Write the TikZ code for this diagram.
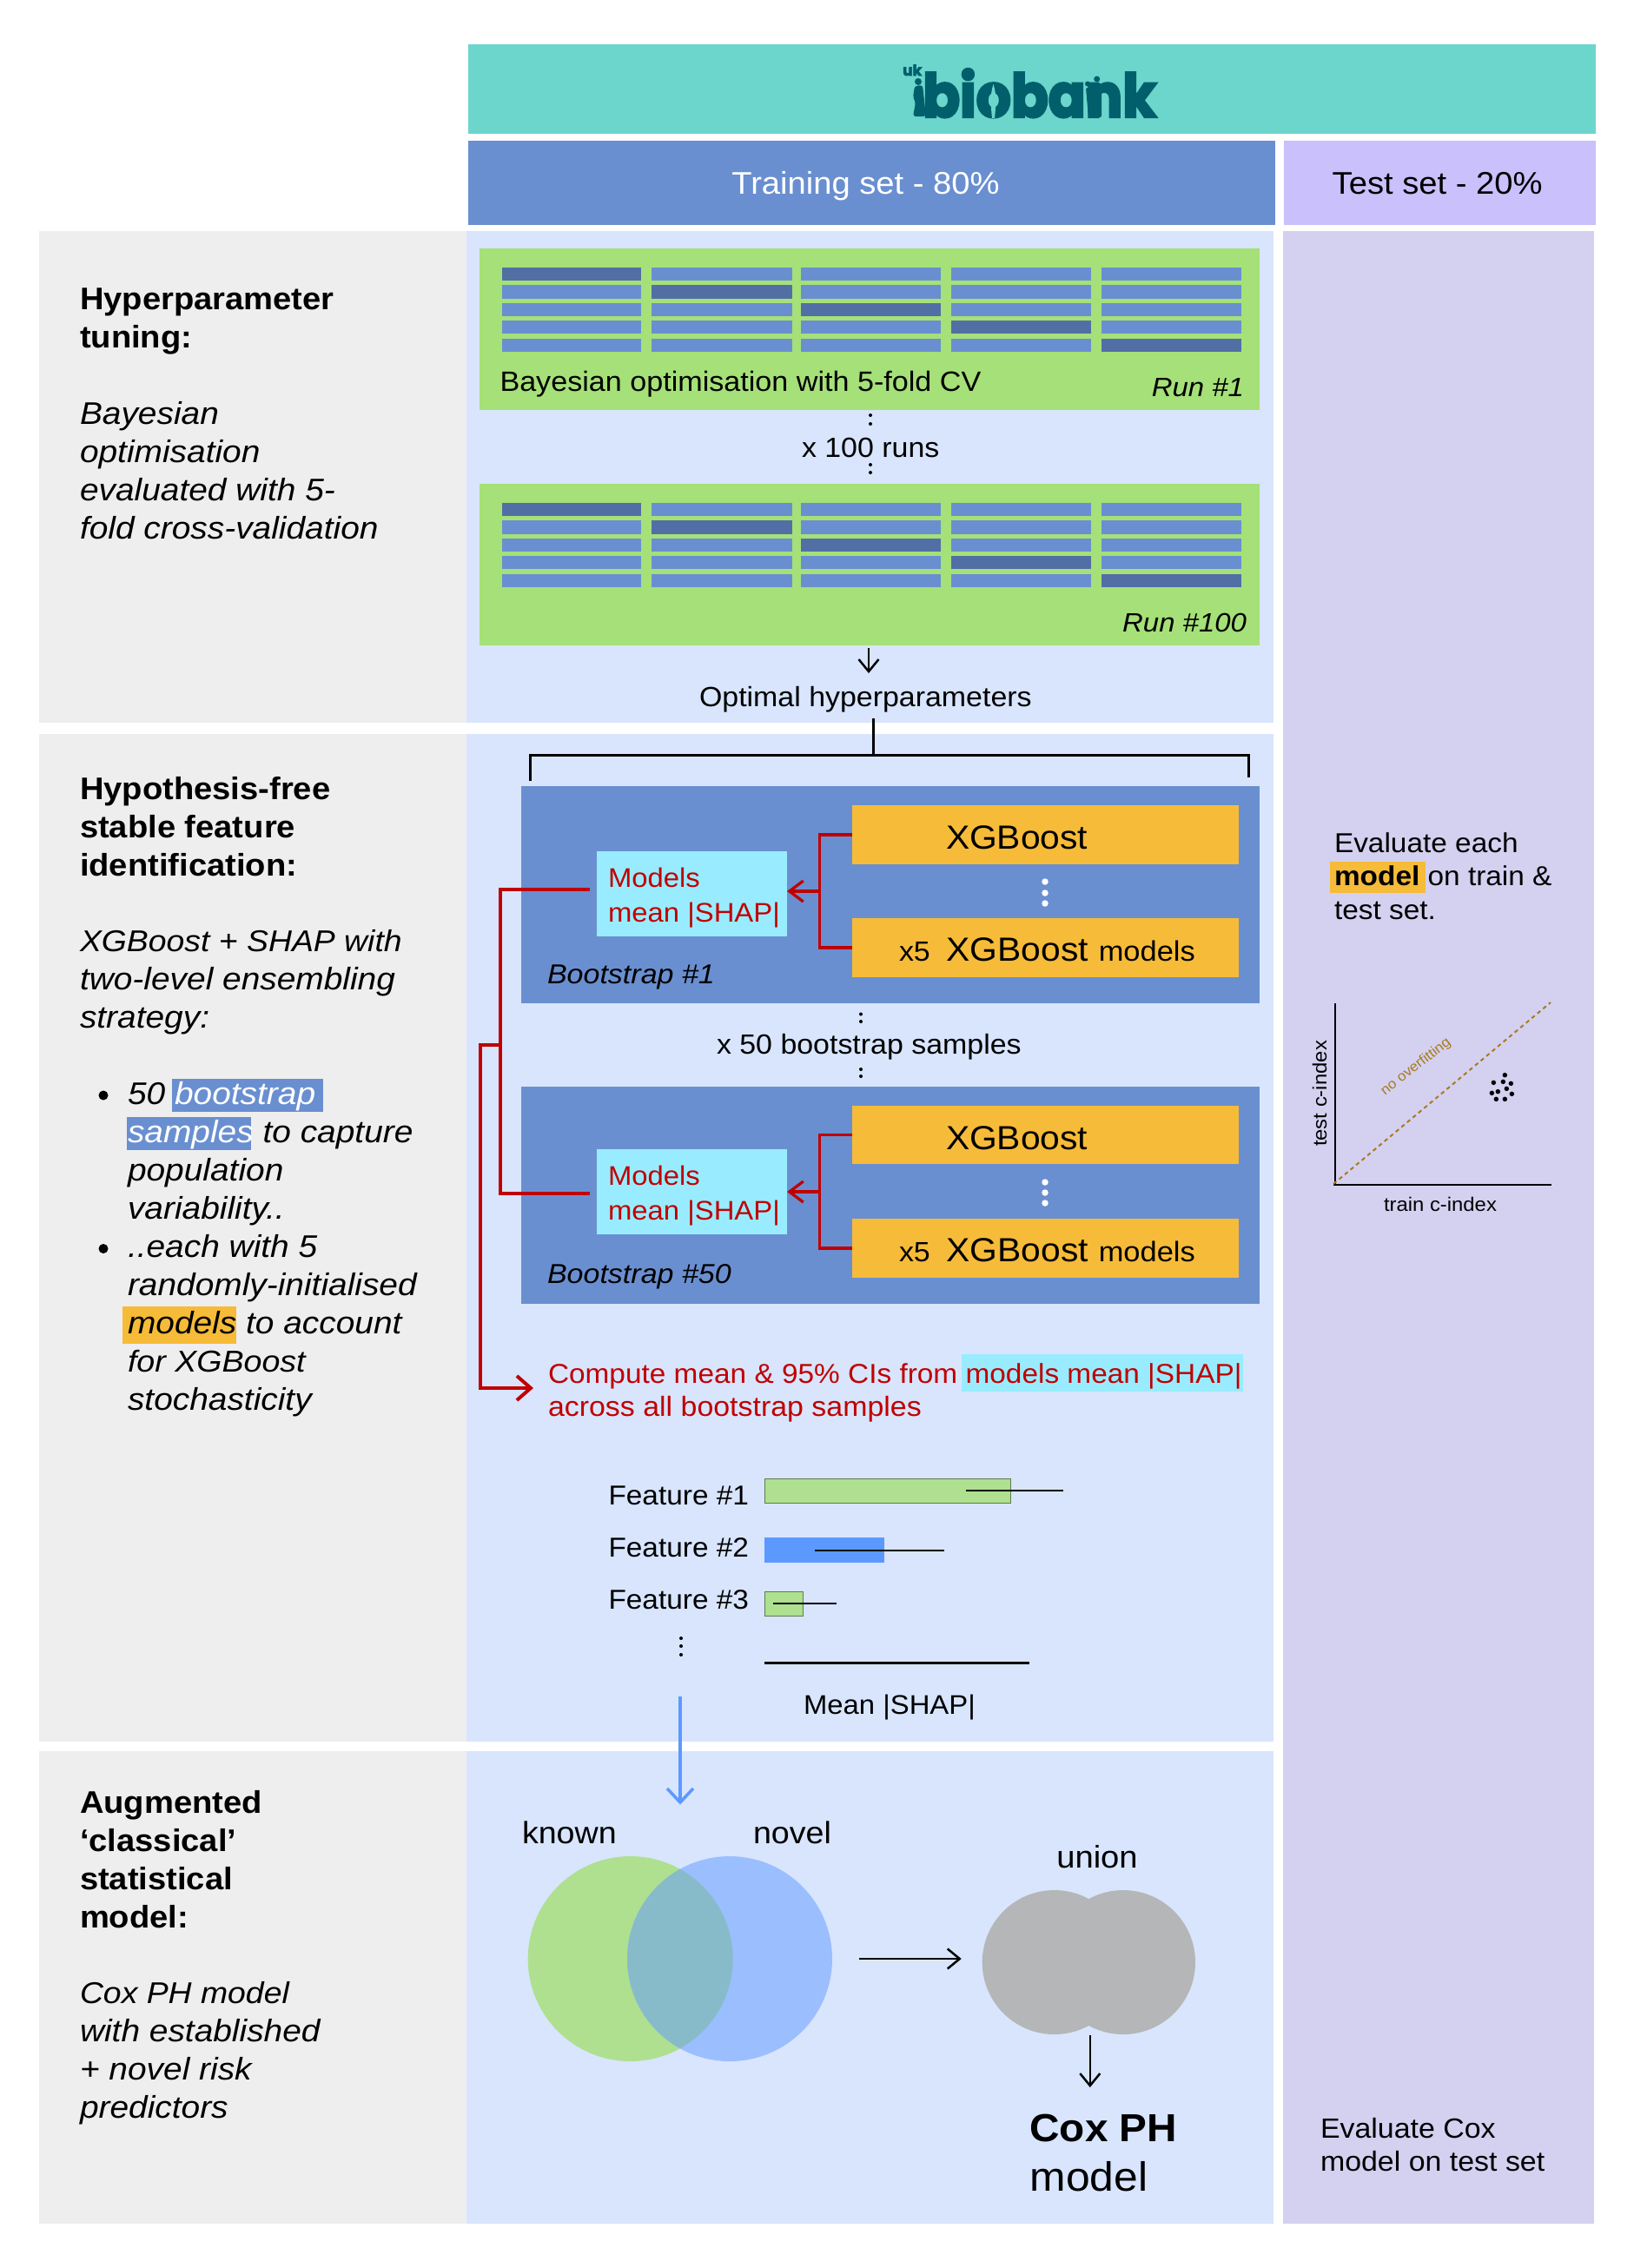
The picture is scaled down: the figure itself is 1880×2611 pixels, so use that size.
\documentclass[tikz,border=0pt]{standalone}
\usepackage{fontspec}
\usepackage{graphicx}
\setmainfont{Liberation Sans}[UprightFeatures={FakeStretch=1.06},BoldFeatures={FakeStretch=1.06},ItalicFeatures={FakeStretch=1.08}]
\newfontfamily\logofont{Poppins}[BoldFeatures={FakeBold=4}]
\usetikzlibrary{arrows.meta}
\definecolor{cTeal}{HTML}{6CD5CC}
\definecolor{cTrain}{HTML}{6A8FD0}
\definecolor{cTestH}{HTML}{C9C0FC}
\definecolor{cPanel}{HTML}{D8E5FD}
\definecolor{cTestP}{HTML}{D4D0F0}
\definecolor{cGrey}{HTML}{EEEEEE}
\definecolor{cGreen}{HTML}{A5E078}
\definecolor{cDark}{HTML}{526FA5}
\definecolor{cOrange}{HTML}{F6BB38}
\definecolor{cCyan}{HTML}{99ECFF}
\definecolor{cRed}{HTML}{C00000}
\definecolor{cBar}{HTML}{AEE08F}
\definecolor{cBlue}{HTML}{5C99FF}
\definecolor{cVenn}{HTML}{9BBEFF}
\definecolor{cOver}{HTML}{88BBC9}
\definecolor{cUnion}{HTML}{B5B6B7}
\definecolor{cLogo}{HTML}{005F6B}
\definecolor{cBrown}{HTML}{A67C1F}
\newcommand\F[2]{\fontsize{#1}{#2}\selectfont}
\newcommand\FS{\rule{0pt}{30pt}}
% name, x1, y1, x2, y2, style, text
\newcommand\pbx[7]{%
  \pgfmathsetmacro\bxw{#4-#2}\pgfmathsetmacro\bxh{#5-#3}%
  \node[#6,minimum width=\bxw pt,minimum height=\bxh pt,inner sep=0pt,outer sep=0pt,anchor=north west] (#1) at (#2,#3) {#7};}
\tikzset{
  txt/.style={inner sep=0pt,outer sep=0pt,anchor=base west,font=\F{32}{39}},
  blk/.style={inner sep=0pt,outer sep=0pt,anchor=north west,align=left},
  cell/.style={fill=cTrain},
  cellhi/.style={fill=cDark},
  redln/.style={draw=cRed,line width=3.3pt},
  redar/.style={draw=cRed,line width=3.3pt,-{Straight Barb[length=16pt,width=24pt,line width=3.3pt]}},
  blkar/.style={draw=black,line width=2.5pt,-{Straight Barb[length=14pt,width=23pt,line width=2.5pt]}},
  barbox/.style={fill=cBar,draw=black!45!cBar,line width=1pt},
  err/.style={draw=black,line width=2.2pt},
  dot/.style={circle,fill=black,inner sep=0pt,minimum size=5pt},
  wdot/.style={circle,fill=white,inner sep=0pt,minimum size=7.5pt},
  pdot/.style={circle,fill=black,inner sep=0pt,minimum size=5.5pt},
}
\begin{document}
\begin{tikzpicture}[x=1pt,y=-1pt]
\useasboundingbox (0,0) rectangle (1880,2611);
\fill[white] (0,0) rectangle (1880,2611);
% header
\pbx{ukb}{539}{51}{1837}{154}{fill=cTeal}{}
\pbx{train}{539}{162}{1468}{259}{fill=cTrain}{}
\pbx{test}{1478}{162}{1837}{259}{fill=cTestH}{}
\node[txt,anchor=base,text=white,font=\F{36}{43}] (trainT) at (996.5,223) {Training set - 80\%};
\node[txt,anchor=base,font=\F{36}{43}] (testT) at (1654.6,223) {Test set - 20\%};
% logo
\node[inner sep=0pt,anchor=north west,text=cLogo] (logo) at (1062,79) {\resizebox{269pt}{55.5pt}{\logofont\bfseries\F{70}{80}biobank}};
\node[inner sep=0pt,anchor=base west,text=cLogo,font=\logofont\bfseries\F{17}{20}] (logouk) at (1039,87) {uk};
\fill[cLogo] (1057,94) circle[radius=4];
\fill[cLogo,rounded corners=3pt] (1053,99) -- (1062,98) -- (1066,134) -- (1051,134) -- (1054,118) -- (1051,112) -- cycle;
\fill[cLogo] (1262.7,91) circle[radius=3.5] (1252,96.5) circle[radius=3];
\fill[cLogo,rounded corners=2pt] (1258,96) -- (1268,96) -- (1268,135) -- (1257,135) -- cycle;
\fill[cLogo,rounded corners=2pt] (1250,101) -- (1258,101) -- (1258,135) -- (1253,135) -- cycle;
\fill[cTeal] (1143.5,97) .. controls (1139,110) and (1141,125) .. (1142,136) -- (1145,136) .. controls (1146,125) and (1148,110) .. (1143.5,97) -- cycle;
% panels
\pbx{gA}{45}{266}{537}{832}{fill=cGrey}{}
\pbx{gB}{45}{845}{537}{2005}{fill=cGrey}{}
\pbx{gC}{45}{2016}{537}{2560}{fill=cGrey}{}
\pbx{pA}{537}{266}{1466}{832}{fill=cPanel}{}
\pbx{pB}{537}{845}{1466}{2005}{fill=cPanel}{}
\pbx{pC}{537}{2016}{1466}{2560}{fill=cPanel}{}
\pbx{pT}{1476.5}{266}{1835}{2560}{fill=cTestP}{}
% left column
\node[blk,font=\bfseries\F{36}{44}] (hA) at (92,326) {\FS Hyperparameter\\tuning:};
\node[blk,font=\itshape\F{36}{44}] (tA) at (92,458) {\FS Bayesian\\optimisation\\evaluated with 5-\\fold cross-validation};
\node[blk,font=\bfseries\F{36}{44}] (hB) at (92,890) {\FS Hypothesis-free\\stable feature\\identification:};
\node[blk,font=\itshape\F{36}{44}] (tB) at (92,1065) {\FS\F{34.6}{44}XGBoost + SHAP with\\\F{36}{44}two-level ensembling\\strategy:};
\fill[cTrain] (198,1242) rectangle (372,1280);
\fill[cTrain] (146,1286) rectangle (289,1324);
\fill[cOrange] (141,1504) rectangle (272,1547);
\node[circle,fill=black,inner sep=0pt,minimum size=11pt] (b1) at (119,1261) {};
\node[circle,fill=black,inner sep=0pt,minimum size=11pt] (b2) at (119,1437.5) {};
\node[blk,font=\itshape\F{36}{44}] (l1) at (147,1241) {\FS 50 \textcolor{white}{bootstrap}\\\textcolor{white}{samples} to capture\\population\\variability..};
\node[blk,font=\itshape\F{36}{44}] (l2) at (147,1417) {\FS ..each with 5\\randomly-initialised\\models to account\\\F{34.8}{44}for XGBoost\\\F{36}{44}stochasticity};
\node[blk,font=\bfseries\F{36}{44}] (hC) at (92,2057) {\FS Augmented\\‘classical’\\statistical\\model:};
\node[blk,font=\itshape\F{36}{44}] (tC) at (92,2276) {\FS\F{34.6}{44}Cox PH model\\\F{36}{44}with established\\+ novel risk\\predictors};
% runs
\foreach \oy/\nm in {0/a,271/b}{
  \pgfmathsetmacro\gy{286+\oy}\pgfmathsetmacro\gz{472+\oy}
  \pbx{green\nm}{551.6}{\gy}{1450}{\gz}{fill=cGreen}{}
  \foreach \ya/\yb [count=\r] in {308/323,328/344,349/364,369/384,390/405}{
    \foreach \xa/\xb [count=\c] in {578/738,750/911.5,921.7/1083,1095/1256,1268/1429}{
      \pgfmathsetmacro\yaa{\ya+\oy}\pgfmathsetmacro\ybb{\yb+\oy}
      \ifnum\r=\c \def\cs{cellhi}\else\def\cs{cell}\fi
      \pbx{c\nm\r\c}{\xa}{\yaa}{\xb}{\ybb}{\cs}{}
    }
  }
}
\node[txt,font=\F{32.2}{39}] (bayes) at (575.5,450) {Bayesian optimisation with 5-fold CV};
\node[txt,anchor=base east,font=\itshape\F{30.5}{39}] (run1) at (1432,456) {Run \#1};
\node[txt,anchor=base east,font=\itshape\F{30.5}{39}] (run100) at (1435,727) {Run \#100};
\node[dot,minimum size=4pt] at (1002,478) {};
\node[dot,minimum size=4pt] at (1002,488) {};
\node[txt] (x100) at (923,526) {x 100 runs};
\node[dot,minimum size=4pt] at (1002,535) {};
\node[dot,minimum size=4pt] at (1002,544) {};
\node[txt] (opt) at (805,813) {Optimal hyperparameters};
\coordinate (arrTop) at (1000,746);
\coordinate (arrEnd) at (1000,775);
\draw[blkar] (arrTop) -- (arrEnd);
% bracket
\coordinate (brTop) at (1005,827);
\coordinate (brMid) at (1005,869);
\coordinate (brL) at (610,899);
\coordinate (brR) at (1437,895);
\draw[line width=3pt,black] (brTop) -- (brMid);
\draw[line width=3pt,black] (brL) |- (brMid) -| (brR);
% bootstrap boxes
\pbx{bsA}{600}{905}{1450}{1155}{fill=cTrain}{}
\pbx{bsB}{600}{1251}{1450}{1501}{fill=cTrain}{}
\pbx{xa1}{981}{927}{1426}{995}{fill=cOrange}{}
\pbx{xb1}{981}{1057}{1426}{1125}{fill=cOrange}{}
\pbx{cy1}{687}{980}{906}{1078}{fill=cCyan}{}
\pbx{xa2}{981}{1273}{1426}{1340}{fill=cOrange}{}
\pbx{xb2}{981}{1403}{1426}{1471}{fill=cOrange}{}
\pbx{cy2}{687}{1323}{906}{1421}{fill=cCyan}{}
\node[txt,font=\F{38.5}{46}] (xt1) at (1089,977) {XGBoost};
\node[txt] (xm1) at (1035,1106) {x5\hspace{18.6pt}\F{38.5}{46}XGBoost\hspace{12pt}\F{32.5}{39}models};
\node[txt,font=\F{38.5}{46}] (xt2) at (1089,1323) {XGBoost};
\node[txt] (xm2) at (1035,1452) {x5\hspace{18.6pt}\F{38.5}{46}XGBoost\hspace{12pt}\F{32.5}{39}models};
\foreach \yy in {1015,1028,1040,1361,1373,1385}{\node[wdot] at (1203,\yy) {};}
\node[blk,text=cRed,font=\F{31}{40}] (mt1) at (700,991) {\FS Models\\mean |SHAP|};
\node[blk,text=cRed,font=\F{31}{40}] (mt2) at (700,1334) {\FS Models\\mean |SHAP|};
\node[txt,font=\itshape\F{31.5}{39}] (bl1) at (630,1132) {Bootstrap \#1};
\node[txt,font=\itshape\F{31.5}{39}] (bl2) at (630,1477) {Bootstrap \#50};
\node[dot,minimum size=4pt] at (991,1167.5) {};
\node[dot,minimum size=4pt] at (991,1176) {};
\node[txt] (x50) at (825,1213.5) {x 50 bootstrap samples};
\node[dot,minimum size=4pt] at (991,1231) {};
\node[dot,minimum size=4pt] at (991,1239) {};
% red connectors
\coordinate (jn1) at (943.7,1026);
\coordinate (jn2) at (943.7,1372);
\draw[redln] (xa1.west) -| (jn1) |- (xb1.west);
\draw[redln] (xa2.west) -| (jn2) |- (xb2.west);
\draw[redar] (jn1) -- (cy1.east |- jn1);
\draw[redar] (jn2) -- (cy2.east |- jn2);
\coordinate (sh1) at (679,1024);
\coordinate (sh2) at (679,1373.5);
\coordinate (vj) at (575.6,1203);
\coordinate (vk) at (553,1203);
\coordinate (comp) at (614,1598);
\draw[line width=4pt,cRed] (sh1) -| (575.6,1373.5) -- (sh2);
\draw[line width=4pt,cRed,-{Straight Barb[length=16pt,width=28pt,line width=4pt]}] (vj) -- (vk) |- (comp);
% compute
\fill[cCyan] (1107,1559) rectangle (1431,1602);
\node[blk,text=cRed,font=\F{32}{38}] (compT) at (631,1562) {\FS\F{31.5}{38}Compute mean \& 95\% CIs from models mean |SHAP|\\\F{32}{38}across all bootstrap samples};
% features
\node[txt,font=\F{31.5}{39}] (f1) at (700.5,1732) {Feature \#1};
\node[txt,font=\F{31.5}{39}] (f2) at (700.5,1792) {Feature \#2};
\node[txt,font=\F{31.5}{39}] (f3) at (700.5,1852) {Feature \#3};
\pbx{bar1}{880}{1702.5}{1163.7}{1730}{barbox}{}
\pbx{bar2}{880}{1770}{1018}{1798.5}{fill=cBlue}{}
\pbx{bar3}{880}{1832.5}{924}{1860}{barbox}{}
\coordinate (e1a) at (1112,1716);\coordinate (e1b) at (1224,1716);
\coordinate (e2a) at (938,1785);\coordinate (e2b) at (1087,1785);
\coordinate (e3a) at (890,1846);\coordinate (e3b) at (963,1846);
\draw[err] (e1a) -- (e1b);
\draw[err] (e2a) -- (e2b);
\draw[err] (e3a) -- (e3b);
\foreach \yy in {1886,1895,1905}{\node[dot,minimum size=4pt] at (784,\yy) {};}
\coordinate (axA) at (880,1914);\coordinate (axB) at (1185,1914);
\draw[line width=3pt,black] (axA) -- (axB);
\node[txt,font=\F{31}{39}] (msh) at (925,1973) {Mean |SHAP|};
\coordinate (blA) at (783,1952.5);\coordinate (blB) at (783,2077.5);
\draw[line width=3.5pt,cBlue,-{Straight Barb[length=16pt,width=30pt,line width=3.5pt]}] (blA) -- (blB);
% venn
\coordinate (vG) at (725.7,2255);
\coordinate (vB) at (840,2255);
\fill[cBar] (vG) circle[radius=118];
\fill[cVenn] (vB) circle[radius=118];
\begin{scope}
\clip (vG) circle[radius=118];
\fill[cOver] (vB) circle[radius=118];
\end{scope}
\node[txt,font=\F{35.5}{43}] (known) at (601,2122.5) {known};
\node[txt,font=\F{35.5}{43}] (novel) at (867,2122.5) {novel};
\node[txt,anchor=base,font=\F{36}{43}] (union) at (1263,2150) {union};
\fill[cUnion] (1213.7,2259) circle[radius=83] (1293,2259) circle[radius=83];
\coordinate (a1) at (989,2255);\coordinate (a2) at (1106.7,2255);
\draw[blkar] (a1) -- (a2);
\coordinate (a3) at (1254.8,2342.5);\coordinate (a4) at (1254.8,2403);
\draw[blkar] (a3) -- (a4);
\node[blk,font=\F{47}{57}] (cox) at (1185.5,2428) {\rule{0pt}{37pt}\F{45}{57}\textbf{Cox PH}\\\F{47}{57}model};
% test column
\fill[cOrange] (1531,992) rectangle (1641,1028);
\node[blk,font=\F{31.5}{38.5}] (ev1) at (1536,951) {\FS Evaluate each\\\textbf{model} on train \&\\test set.};
\node[blk,font=\F{32}{38}] (ev2) at (1520,2431) {\FS Evaluate Cox\\model on test set};
\coordinate (plO) at (1537,1364);
\coordinate (plY) at (1537,1155);
\coordinate (plX) at (1786,1364);
\draw[line width=2.5pt,black] (plY) -- (plO);
\draw[line width=2.5pt,black] (1535,1364) -- (plX);
\coordinate (d1) at (1535,1363);\coordinate (d2) at (1785,1154);
\draw[cBrown,line width=2pt,dash pattern=on 4.5pt off 4pt] (d1) -- (d2);
\node[rotate=38,text=cBrown,font=\F{16}{20},inner sep=0pt] (noov) at (1630,1228) {no overfitting};
\node[font=\F{22.5}{26},inner sep=0pt] (trc) at (1658,1386) {train c-index};
\node[rotate=90,font=\F{22.5}{26},inner sep=0pt] (tsc) at (1519,1259) {test c-index};
\foreach \px/\py in {757/953,718/979,751/976,778/982,733/1010,763/1000,712/1015,781/1018,727/1036,757/1036}{
  \node[pdot] at ({1480+\px/3},{920+\py/3}) {};
}
\end{tikzpicture}
\end{document}
